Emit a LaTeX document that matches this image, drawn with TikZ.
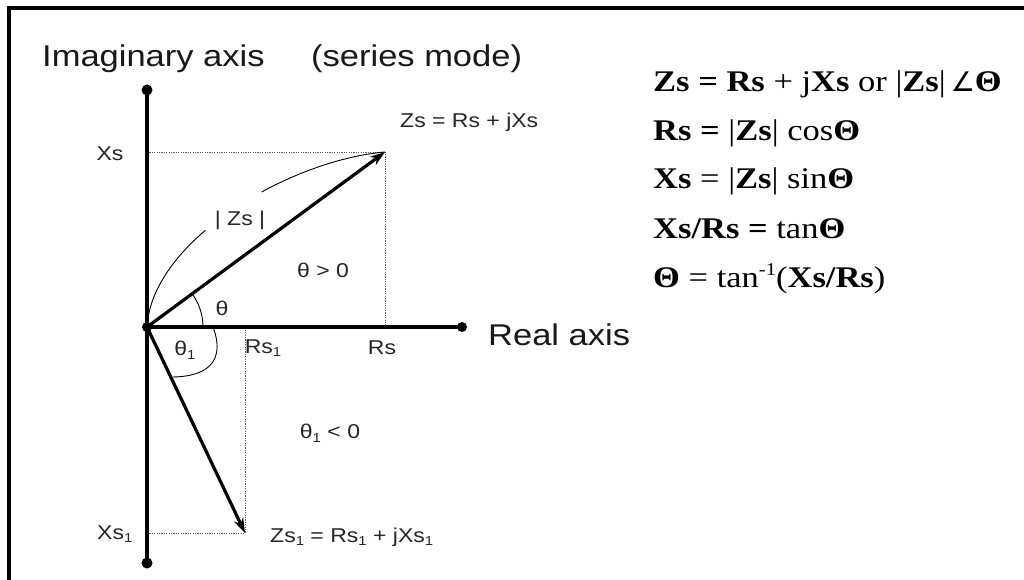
\documentclass[tikz,border=0pt]{standalone}
\usepackage{fontspec}
\setmainfont{Liberation Serif}[FakeStretch=1.15]
\newfontfamily\arialx[FakeStretch=1.15]{Liberation Sans}
\newfontfamily\djv{DejaVu Sans}
\usetikzlibrary{arrows.meta}
\newcommand\subone{\raisebox{-0.35ex}{\fontsize{13}{13}\selectfont 1}}
\newcommand\supm{\raisebox{0.85ex}{\fontsize{18}{18}\selectfont -1}}
\newcommand\angsym{\,{\djv\fontsize{27}{30}\selectfont ∠}}
\begin{document}
\begin{tikzpicture}[x=1pt,y=-1pt,
  axisline/.style={line width=3.3pt},
  vec/.style={line width=3.2pt,-{Stealth[length=15pt,width=10pt]}},
  proj/.style={line width=0.8pt,black!65,dash pattern=on 1.2pt off 1.2pt},
  thinarc/.style={line width=0.9pt},
  enddot/.style={circle,fill=black,inner sep=0pt,minimum size=11pt},
  biglbl/.style={font=\arialx\fontsize{30}{36}\selectfont,inner sep=0pt,text=black!90},
  smalllbl/.style={font=\arialx\fontsize{20}{24}\selectfont,inner sep=0pt,text=black!85},
  eq/.style={font=\fontsize{30}{36}\selectfont,inner sep=0pt,anchor=base west}
]
\useasboundingbox (0,0) rectangle (1024,580);
\fill[white] (0,0) rectangle (1024,580);
\draw[line width=3.5pt] (9,582) -- (9,8) -- (1026,8);

% key points
\coordinate (O) at (147,327);
\coordinate (Z) at (385,152);
\coordinate (Z1) at (245,533);
\coordinate (XsP) at (147,152);
\coordinate (RsP) at (385,327);
\coordinate (Xs1P) at (147,533);
\coordinate (Rs1P) at (245,327);

% projections
\draw[proj] (XsP) -- (Z) -- (RsP);
\draw[proj] (Xs1P) -- (Z1) -- (Rs1P);

% axes
\node[enddot] (top) at (147,90) {};
\node[enddot] (bot) at (147,563) {};
\node[enddot,minimum size=10pt] (rgt) at (462,327) {};
\node[enddot,minimum size=10pt] (org) at (O) {};
\draw[axisline] (top.center) -- (bot.center);
\draw[axisline] (org.center) -- (rgt.center);

% vectors
\draw[vec] (O) -- (Z);
\draw[vec] (O) -- (Z1);

% arcs
\draw[thinarc,dash pattern=on 116pt off 68pt on 600pt] (O) .. controls (152,240) and (290,160) .. (Z);
\draw[thinarc] (203,327) arc[start angle=0,end angle=-36.3,radius=56];
\draw[thinarc] (213,327) .. controls (220,345) and (224,376) .. (173,377);

% axis labels
\node[biglbl,anchor=base west] (imag) at (42,67) {Imaginary axis};
\node[biglbl,anchor=base west] (mode) at (311,67) {(series mode)};
\node[biglbl,anchor=base west] (real) at (488,345) {Real axis};

% small labels
\node[smalllbl] (xs) at (110,154) {Xs};
\node[smalllbl,anchor=west] (xs1) at (97,534) {Xs\subone};
\node[smalllbl] (rs1) at (263,348) {Rs\subone};
\node[smalllbl] (rs) at (382,348) {Rs};
\node[smalllbl] (mag) at (240,220) {| Zs |};
\node[smalllbl] (thpos) at (323,270) {θ > 0};
\node[smalllbl] (th) at (222,308) {θ};
\node[smalllbl] (th1) at (185,350) {θ\subone};
\node[smalllbl] (th1neg) at (330,433) {θ\subone{} < 0};
\node[smalllbl,anchor=west] (zslbl) at (400,122) {Zs = Rs + jXs};
\node[smalllbl,anchor=west] (zs1lbl) at (270,537) {Zs\subone{} = Rs\subone{} + jXs\subone};

% equations
\node[eq] (e1) at (653,92) {\textbf{Zs = Rs} + j\textbf{Xs} or |\textbf{Zs}|\angsym\textbf{Θ}};
\node[eq] (e2) at (653,141) {\textbf{Rs =} |\textbf{Zs}| cos\textbf{Θ}};
\node[eq] (e3) at (653,189) {\textbf{Xs} = |\textbf{Zs}| sin\textbf{Θ}};
\node[eq] (e4) at (653,238) {\textbf{Xs/Rs =} tan\textbf{Θ}};
\node[eq] (e5) at (653,287) {\textbf{Θ} = tan\supm(\textbf{Xs/Rs})};
\end{tikzpicture}
\end{document}
